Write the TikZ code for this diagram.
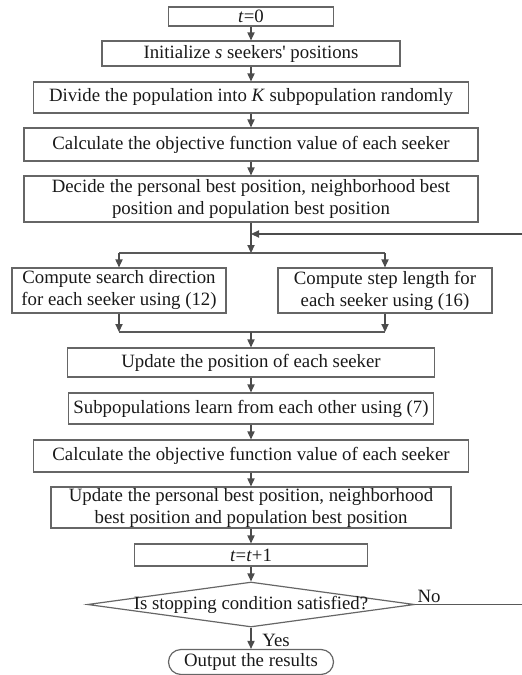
\documentclass[tikz,border=0pt]{standalone}
\usepackage{fontspec}
\setmainfont{Liberation Serif}
\usetikzlibrary{arrows.meta,shapes.geometric}

\begin{document}
\begin{tikzpicture}[x=0.5pt,y=-0.5pt,
    every node/.style={font=\fontsize{9.4}{11}\selectfont, text=black!90},
    box/.style={draw=black!60, line width=0.6pt, align=center, inner sep=0pt},
    decision/.style={box, shape=diamond, minimum width=163.5pt, minimum height=22.5pt},
    arr/.style={-{Triangle[length=4pt,width=3.6pt]}, line width=0.6pt, draw=black!70},
    line/.style={line width=0.6pt, draw=black!65}]
  \useasboundingbox (0,0) rectangle (522,675);
  % main column
  \node[box, minimum width=82.5pt, minimum height=9.5pt] (n1) at (251,16.5) {\textit{t}=0};
  \node[box, minimum width=149pt, minimum height=12.5pt] (n2) at (251,53.5)
    {Initialize \textit{s} seekers\textquotesingle\ positions};
  \node[box, minimum width=217.5pt, minimum height=15.5pt] (n3) at (251,97.5)
    {Divide the population into \textit{K} subpopulation randomly};
  \node[box, minimum width=227pt, minimum height=16.5pt] (n4) at (251,144.5)
    {Calculate the objective function value of each seeker};
  \node[box, minimum width=227pt, minimum height=23pt] (n5) at (251,199)
    {Decide the personal best position, neighborhood best\\position and population best position};
  % two branches
  \node[box, minimum width=107pt, minimum height=22.5pt] (dir) at (119,290.5)
    {Compute search direction\\for each seeker using (12)};
  \node[box, minimum width=107pt, minimum height=22.5pt] (len) at (385,290.5)
    {Compute step length for\\each seeker using (16)};
  \node[box, minimum width=183.5pt, minimum height=14.5pt] (n7) at (251,362.5)
    {Update the position of each seeker};
  \node[box, minimum width=182.5pt, minimum height=15.5pt] (n8) at (251,408.5)
    {Subpopulations learn from each other using (7)};
  \node[box, minimum width=217.5pt, minimum height=16pt] (n9) at (251,456)
    {Calculate the objective function value of each seeker};
  \node[box, minimum width=200pt, minimum height=20.5pt] (n10) at (251,507.5)
    {Update the personal best position, neighborhood\\best position and population best position};
  \node[box, minimum width=116.5pt, minimum height=11pt] (n11) at (251,555) {\textit{t}=\textit{t}+1};
  \node[decision] (stop) at (251,604.5) {\makebox[0pt]{Is stopping condition satisfied?}};
  \node[box, rounded corners=6.25pt, minimum width=82.5pt, minimum height=12.5pt] (out) at (251,662)
    {Output the results};
  \node (no) at (429,596) {No};
  \node (yes) at (276,640) {Yes};

  % connectors
  \foreach \a/\b in {n1/n2,n2/n3,n3/n4,n4/n5,n7/n8,n8/n9,n9/n10,n10/n11,n11/stop,stop/out}
    \draw[arr] (\a) -- (\b);
  \coordinate (back) at (251,234);
  \coordinate (split) at (251,253);
  \coordinate (merge) at (251,332);
  \coordinate (edge) at (524,604.5);
  \draw[arr] (n5) -- (split);
  \draw[line] (split -| dir) -- (split -| len);
  \draw[arr] (split -| dir) -- (dir);
  \draw[arr] (split -| len) -- (len);
  \draw[arr] (dir) -- (dir |- merge);
  \draw[arr] (len) -- (len |- merge);
  \draw[line] (dir |- merge) -- (len |- merge);
  \draw[arr] (merge) -- (n7);
  % loop back
  \draw[line] (stop.east) -- (edge) -- (edge |- back);
  \draw[arr] (edge |- back) -- (back);
\end{tikzpicture}
\end{document}
